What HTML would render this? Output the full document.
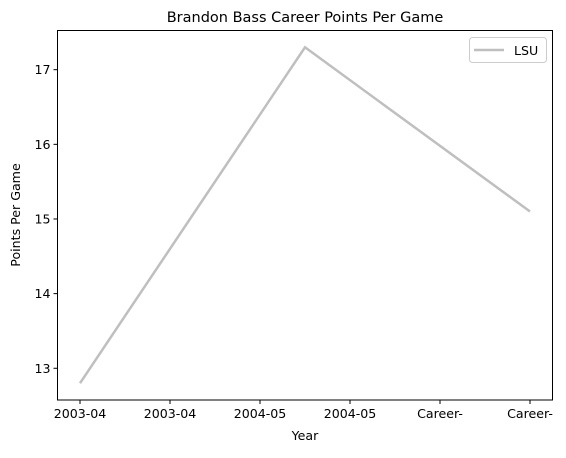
<!DOCTYPE html>
<html><head><meta charset="utf-8"><style>
body{margin:0;background:#fff;font-family:"Liberation Sans","DejaVu Sans",sans-serif}
text{font-family:"DejaVu Sans","Liberation Sans",sans-serif;font-size:12.6px;fill:#000}
</style></head><body>
<svg id="chart" width="566" height="453" xmlns="http://www.w3.org/2000/svg">
<rect x="0" y="0" width="566" height="453" fill="#fff"/>
<text x="305" y="22" text-anchor="middle" style="font-size:14.5px">Brandon Bass Career Points Per Game</text>
<g id="plot"></g>
<rect x="57.5" y="30.5" width="495" height="369.5" fill="none" stroke="#000" stroke-width="1"/>
<text x="305" y="440" text-anchor="middle">Year</text>
<text transform="translate(20,215) rotate(-90)" text-anchor="middle">Points Per Game</text>
<g>
<rect x="469.5" y="37.5" width="77" height="25" rx="3" fill="#fff" stroke="#ccc"/>
<line x1="474" y1="50" x2="504" y2="50" stroke="#bfbfbf" stroke-width="2.5"/>
<text x="514" y="55">LSU</text>
</g>
</svg>
<script>
const tickLabels=["2003-04","2003-04","2004-05","2004-05","Career-","Career-"];
const xValues=[0,2.5,5];
const yValues=[12.8,17.3,15.1];
const yTicks=[13,14,15,16,17];
const NS="http://www.w3.org/2000/svg";
const L=57.5,R=552.5,T=30.5,B=400;
const xmin=-0.25,xmax=5.25,ymin=12.575,ymax=17.525;
const xs=v=>L+(v-xmin)/(xmax-xmin)*(R-L);
const ys=v=>B-(v-ymin)/(ymax-ymin)*(B-T);
const g=document.getElementById('plot');
function mk(t,a){const e=document.createElementNS(NS,t);for(const k in a)e.setAttribute(k,a[k]);g.appendChild(e);return e;}
tickLabels.forEach((lab,i)=>{
 const x=xs(i);
 const tk=mk('line',{x1:x,y1:B,x2:x,y2:B+4,stroke:'#000'});
 
 
 const t=mk('text',{x:x,y:B+18,'text-anchor':'middle'});t.textContent=lab;
 
 
});
yTicks.forEach(v=>{
 const y=ys(v);
 const tk=mk('line',{x1:L-4,y1:y,x2:L,y2:y,stroke:'#000'});
 
 
 const t=mk('text',{x:L-7,y:y+4.5,'text-anchor':'end'});t.textContent=v;
 
 
});
const pts=xValues.map((x,i)=>xs(x)+','+ys(yValues[i])).join(' ');
const pl=mk('polyline',{points:pts,fill:'none',stroke:'#bfbfbf','stroke-width':2.5});


</script>
</body></html>
